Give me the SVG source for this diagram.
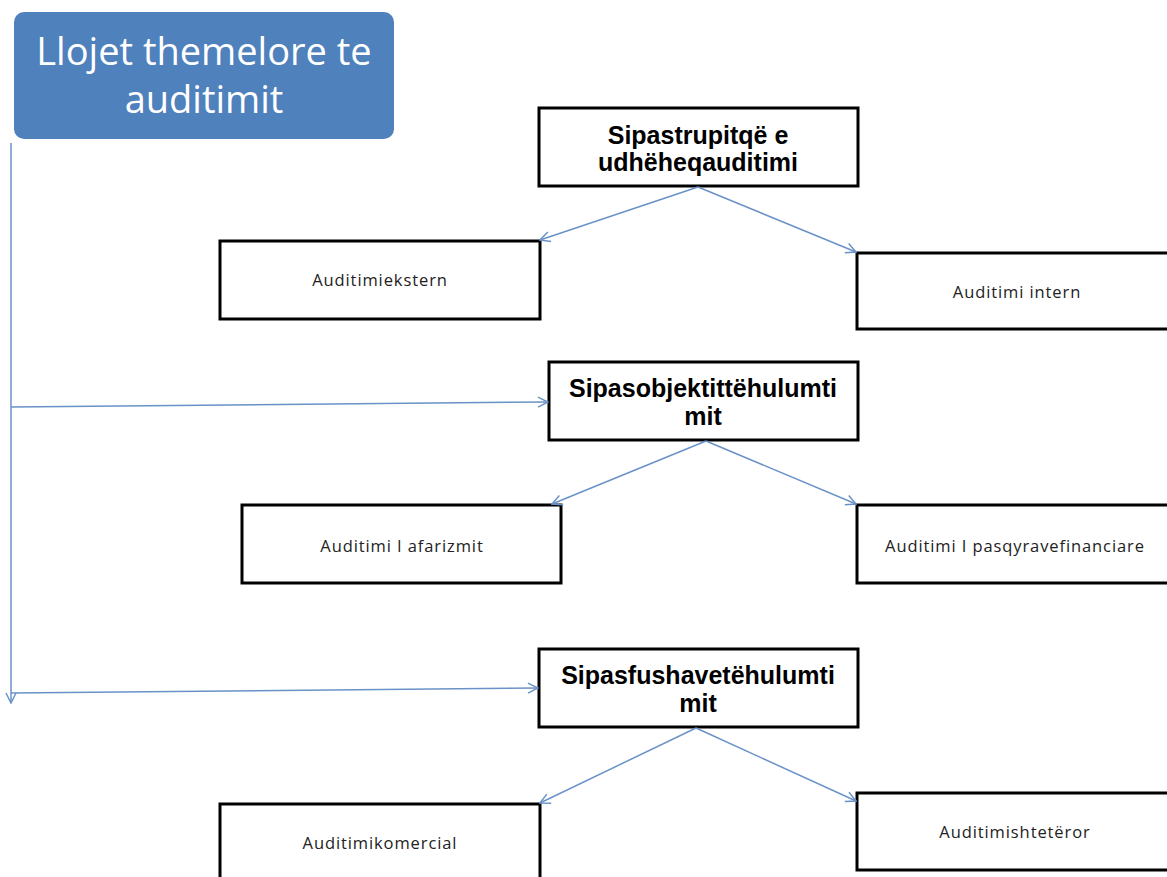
<svg xmlns="http://www.w3.org/2000/svg" width="1167" height="877" viewBox="0 0 1167 877">
<defs>
<style>
.box{fill:#fff;stroke:#000;stroke-width:3}
.h{font-family:"Liberation Sans",Arial,sans-serif;font-weight:bold;font-size:25px;fill:#000;text-anchor:middle}
.s{font-family:"Open Sans","Liberation Sans",sans-serif;font-size:16.5px;letter-spacing:0.9px;fill:#222;text-anchor:middle}
.c{fill:none;stroke:#6A92C8;stroke-width:1.5}
</style>
<marker id="a" viewBox="0 0 12 12" refX="11" refY="6" markerWidth="12" markerHeight="12" markerUnits="userSpaceOnUse" orient="auto">
<path d="M1,1 L11,6 L1,11" fill="none" stroke="#6A92C8" stroke-width="1.5"/>
</marker>
</defs>
<rect width="1167" height="877" fill="#fff"/>
<g id="title">
<rect x="14" y="12" width="380" height="127" rx="10" fill="#4F81BD"/>
<text x="204" y="65" font-family="Open Sans,Liberation Sans,sans-serif" font-size="38" fill="#fff" text-anchor="middle">Llojet themelore te</text>
<text x="204" y="113" font-family="Open Sans,Liberation Sans,sans-serif" font-size="38" fill="#fff" text-anchor="middle">auditimit</text>
</g>
<g id="n1"><rect class="box" x="539" y="108" width="319" height="78"/><text class="h" x="698" y="144">Sipastrupitqë e</text><text class="h" x="698" y="171">udhëheqauditimi</text></g>
<g id="n1a"><rect class="box" x="220" y="241" width="320" height="78"/><text class="s" x="380" y="286">Auditimiekstern</text></g>
<g id="n1b"><rect class="box" x="857" y="253" width="320" height="76"/><text class="s" x="1017" y="298">Auditimi intern</text></g>
<g id="n2"><rect class="box" x="549" y="362" width="309" height="78"/><text class="h" x="703" y="397">Sipasobjektittëhulumti</text><text class="h" x="703" y="425">mit</text></g>
<g id="n2a"><rect class="box" x="242" y="505" width="319" height="78"/><text class="s" x="402" y="552">Auditimi I afarizmit</text></g>
<g id="n2b"><rect class="box" x="857" y="505" width="320" height="78"/><text class="s" x="1015" y="552">Auditimi I pasqyravefinanciare</text></g>
<g id="n3"><rect class="box" x="539" y="649" width="319" height="78"/><text class="h" x="698" y="684">Sipasfushavetëhulumti</text><text class="h" x="698" y="712">mit</text></g>
<g id="n3a"><rect class="box" x="220" y="804" width="320" height="90"/><text class="s" x="380" y="849">Auditimikomercial</text></g>
<g id="n3b"><rect class="box" x="857" y="793" width="320" height="77"/><text class="s" x="1015" y="838">Auditimishtetëror</text></g>
<g id="connectors">
<line class="c" x1="11" y1="143" x2="11" y2="703" marker-end="url(#a)"/>
<line class="c" x1="11" y1="407" x2="548" y2="402" marker-end="url(#a)"/>
<line class="c" x1="11" y1="693" x2="538" y2="688" marker-end="url(#a)"/>
<line class="c" x1="698" y1="187" x2="540" y2="240" marker-end="url(#a)"/>
<line class="c" x1="698" y1="187" x2="856" y2="252" marker-end="url(#a)"/>
<line class="c" x1="706" y1="441" x2="552" y2="504" marker-end="url(#a)"/>
<line class="c" x1="706" y1="441" x2="856" y2="504" marker-end="url(#a)"/>
<line class="c" x1="696" y1="728" x2="540" y2="803" marker-end="url(#a)"/>
<line class="c" x1="696" y1="728" x2="856" y2="801" marker-end="url(#a)"/>
</g>
</svg>
